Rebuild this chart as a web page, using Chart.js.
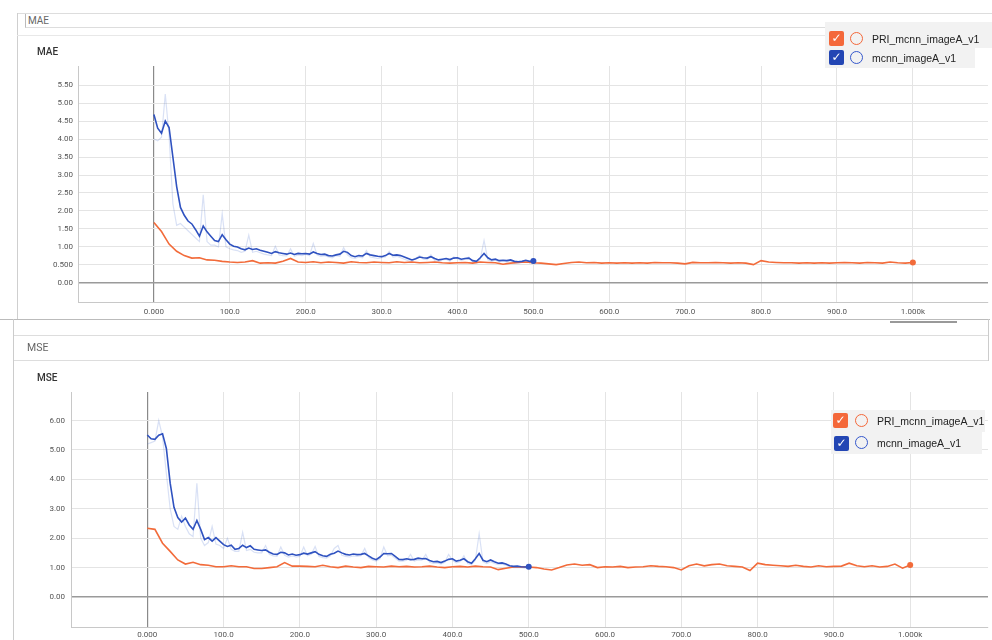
<!DOCTYPE html>
<html><head><meta charset="utf-8">
<script src="https://cdn.jsdelivr.net/npm/chart.js@4.4.0/dist/chart.umd.min.js"></script>
<style>
body{margin:0;width:992px;height:640px;overflow:hidden;background:#fff;font-family:Roboto,"Liberation Sans",Arial,sans-serif;position:relative;}
.a{position:absolute;}
canvas{position:absolute;}
.hdr{font-size:10px;color:#666;}
.ttl{font-size:10px;color:#333;font-weight:500;}
.row{position:absolute;background:#f2f2f2;}
.cb{position:absolute;width:15px;height:15px;border-radius:2px;color:#fff;font-size:12px;line-height:15px;text-align:center;font-family:"DejaVu Sans",sans-serif;}
.ring{position:absolute;width:11px;height:11px;border-radius:50%;border:1.5px solid;}
.lt{position:absolute;font-family:"Liberation Sans",Arial,sans-serif;font-size:10.5px;color:#222;line-height:14px;white-space:nowrap;}
</style></head><body>
<canvas id="mae" width="975" height="283" style="left:17px;top:36px;width:975px;height:283px"></canvas>
<canvas id="mse" width="979" height="279" style="left:13px;top:361px;width:979px;height:279px"></canvas>

<!-- top panel frame -->
<div class="a" style="left:17px;top:13px;width:975px;height:0;border-top:1px solid #ddd"></div>
<div class="a" style="left:17px;top:13px;width:0;height:306px;border-left:1px solid #cfcfcf"></div>
<div class="a hdr" style="left:25px;top:14px;width:966px;height:13px;border-left:1px solid #bbb;border-bottom:1px solid #ddd;line-height:13px;padding-left:2px">MAE</div>
<div class="a" style="left:17px;top:35px;width:975px;height:0;border-top:1px solid #e8e8e8"></div>
<div class="a ttl" style="left:37px;top:46px">MAE</div>

<!-- separator & bottom panel frame -->
<div class="a" style="left:0;top:319px;width:990px;height:0;border-top:1px solid #bbb"></div>
<div class="a" style="left:890px;top:321px;width:67px;height:2px;background:#999"></div>
<div class="a" style="left:13px;top:319px;width:0;height:321px;border-left:1px solid #ccc"></div>
<div class="a" style="left:988px;top:319px;width:0;height:42px;border-left:1px solid #ccc"></div>
<div class="a hdr" style="left:14px;top:335px;width:961px;height:24px;border-top:1px solid #ddd;border-bottom:1px solid #ddd;line-height:24px;padding-left:13px;font-size:10.5px">MSE</div>
<div class="a ttl" style="left:37px;top:372px">MSE</div>

<!-- top legend -->
<div class="row" style="left:825px;top:22px;width:167px;height:26px"></div>
<div class="row" style="left:825px;top:48px;width:150px;height:20px"></div>
<div class="cb" style="left:829px;top:31px;background:#f4683a">✓</div>
<div class="ring" style="left:850px;top:32px;border-color:#f4683a"></div>
<div class="lt" style="left:872px;top:32px">PRI_mcnn_imageA_v1</div>
<div class="cb" style="left:829px;top:50px;background:#2346b4">✓</div>
<div class="ring" style="left:850px;top:51px;border-color:#3558cc"></div>
<div class="lt" style="left:872px;top:51px">mcnn_imageA_v1</div>

<!-- bottom legend -->
<div class="row" style="left:831px;top:410px;width:154px;height:22px"></div>
<div class="row" style="left:831px;top:432px;width:151px;height:22px"></div>
<div class="cb" style="left:833px;top:413px;background:#f4683a">✓</div>
<div class="ring" style="left:855px;top:414px;border-color:#f4683a"></div>
<div class="lt" style="left:877px;top:414px">PRI_mcnn_imageA_v1</div>
<div class="cb" style="left:834px;top:436px;background:#2346b4">✓</div>
<div class="ring" style="left:855px;top:436px;border-color:#3558cc"></div>
<div class="lt" style="left:877px;top:436px">mcnn_imageA_v1</div>

<script>
// x positions (training steps) of the logged points
const stepsBlue = Array.from({length:101},(_,i)=>i*5);
const stepsOrange = Array.from({length:101},(_,i)=>i*10);

const xTickValues = [0,100,200,300,400,500,600,700,800,900,1000];
const xTickLabels = ["0.000","100.0","200.0","300.0","400.0","500.0","600.0","700.0","800.0","900.0","1.000k"];
const maeTickValues = [0,0.5,1,1.5,2,2.5,3,3.5,4,4.5,5,5.5];
const maeTickLabels = ["0.00","0.500","1.00","1.50","2.00","2.50","3.00","3.50","4.00","4.50","5.00","5.50"];
const mseTickValues = [0,1,2,3,4,5,6];
const mseTickLabels = ["0.00","1.00","2.00","3.00","4.00","5.00","6.00"];

const seriesNames = ["PRI_mcnn_imageA_v1","mcnn_imageA_v1"];

// MAE – mcnn_imageA_v1 (smoothed), steps 0..500 by 5
const maeBlue = [4.68,4.30,4.16,4.50,4.32,3.50,2.68,2.10,1.88,1.72,1.64,1.48,1.30,1.58,1.42,1.30,1.18,1.15,1.34,1.20,
1.08,1.02,1.00,0.95,0.92,0.97,0.93,0.95,0.91,0.88,0.85,0.82,0.87,0.84,0.82,0.80,0.83,0.79,0.82,0.81,
0.82,0.80,0.86,0.82,0.79,0.80,0.76,0.75,0.78,0.80,0.88,0.85,0.76,0.73,0.76,0.75,0.82,0.78,0.76,0.74,
0.73,0.76,0.82,0.77,0.78,0.76,0.72,0.68,0.64,0.67,0.72,0.70,0.69,0.73,0.68,0.64,0.66,0.68,0.65,0.69,
0.70,0.66,0.68,0.69,0.62,0.60,0.70,0.82,0.70,0.64,0.66,0.62,0.63,0.62,0.64,0.60,0.59,0.60,0.63,0.60,0.61];
// MAE – mcnn_imageA_v1 (raw)
const maeBlueRaw = [4.00,3.95,4.05,5.25,4.10,2.20,1.60,1.65,1.55,1.45,1.35,1.25,1.15,2.45,1.15,1.05,1.05,1.00,1.92,1.00,
0.95,0.92,0.90,0.85,0.88,1.33,0.85,0.88,0.84,0.80,0.78,0.76,1.02,0.78,0.76,0.75,0.95,0.74,0.78,0.76,
0.80,0.76,1.10,0.78,0.74,0.76,0.72,0.70,0.76,0.74,0.98,0.78,0.70,0.68,0.72,0.70,0.90,0.72,0.70,0.68,
0.70,0.72,0.88,0.72,0.74,0.70,0.66,0.62,0.60,0.68,0.76,0.66,0.65,0.78,0.62,0.60,0.64,0.66,0.60,0.72,
0.68,0.62,0.66,0.72,0.58,0.56,0.66,1.18,0.64,0.60,0.64,0.58,0.62,0.58,0.62,0.56,0.56,0.58,0.62,0.56,0.60];
// MAE – PRI_mcnn_imageA_v1 (smoothed), steps 0..1000 by 10
const maeOrange = [1.68,1.43,1.08,0.88,0.76,0.69,0.70,0.64,0.63,0.60,0.58,0.57,0.58,0.62,0.55,0.56,0.55,0.60,0.68,0.58,
0.57,0.59,0.56,0.58,0.57,0.55,0.59,0.57,0.56,0.58,0.57,0.56,0.59,0.57,0.58,0.56,0.57,0.58,0.56,0.55,
0.56,0.57,0.55,0.58,0.57,0.56,0.52,0.55,0.57,0.58,0.56,0.55,0.53,0.51,0.54,0.57,0.58,0.56,0.57,0.55,
0.56,0.55,0.56,0.55,0.56,0.55,0.57,0.56,0.56,0.55,0.53,0.57,0.56,0.56,0.57,0.56,0.55,0.56,0.55,0.51,
0.62,0.58,0.57,0.56,0.56,0.55,0.56,0.55,0.56,0.55,0.56,0.57,0.56,0.55,0.57,0.56,0.55,0.58,0.56,0.55,0.57];

// MSE – mcnn_imageA_v1 (smoothed), steps 0..500 by 5
const mseBlue = [5.51,5.38,5.36,5.50,5.55,5.05,3.87,3.05,2.70,2.55,2.68,2.45,2.30,2.60,2.30,1.95,2.02,1.90,2.02,1.90,
1.78,1.72,1.76,1.62,1.65,1.76,1.68,1.74,1.62,1.60,1.58,1.60,1.52,1.46,1.45,1.52,1.50,1.43,1.46,1.42,
1.44,1.49,1.46,1.50,1.54,1.45,1.40,1.38,1.45,1.49,1.56,1.50,1.45,1.43,1.46,1.44,1.45,1.48,1.40,1.32,
1.27,1.36,1.48,1.47,1.48,1.38,1.28,1.27,1.30,1.27,1.28,1.32,1.30,1.31,1.24,1.20,1.21,1.17,1.22,1.28,
1.30,1.22,1.25,1.30,1.20,1.15,1.30,1.48,1.25,1.20,1.26,1.20,1.15,1.16,1.12,1.06,1.04,1.05,1.03,1.02,1.03];
// MSE – mcnn_imageA_v1 (raw)
const mseBlueRaw = [5.20,5.25,5.30,6.00,5.45,4.20,3.00,2.40,2.30,2.75,2.40,2.15,2.05,3.87,2.00,1.75,1.85,2.40,1.80,1.75,
1.65,2.00,1.62,1.55,1.55,2.20,1.58,1.62,1.52,1.50,1.50,1.75,1.45,1.40,1.38,1.70,1.42,1.36,1.40,1.36,
1.38,1.70,1.40,1.45,1.72,1.38,1.34,1.32,1.40,1.65,1.75,1.42,1.38,1.36,1.40,1.38,1.40,1.65,1.34,1.26,
1.22,1.30,1.70,1.40,1.42,1.32,1.22,1.22,1.25,1.45,1.22,1.26,1.25,1.45,1.18,1.14,1.16,1.12,1.18,1.45,
1.25,1.16,1.20,1.40,1.14,1.10,1.25,2.15,1.20,1.14,1.20,1.14,1.10,1.12,1.08,1.02,1.00,1.01,1.00,0.98,1.00];
// MSE – PRI_mcnn_imageA_v1 (smoothed), steps 0..1000 by 10
const mseOrange = [2.34,2.30,1.83,1.55,1.26,1.12,1.18,1.10,1.08,1.03,1.03,1.06,1.03,1.03,0.97,0.97,1.00,1.03,1.17,1.05,
1.05,1.04,1.03,1.08,1.03,1.00,1.05,1.02,1.00,1.04,1.03,1.02,1.05,1.03,1.04,1.02,1.03,1.05,1.02,1.00,
1.03,1.04,1.02,1.05,1.03,1.02,0.93,0.98,1.02,1.03,1.02,1.00,0.95,0.92,1.00,1.09,1.12,1.08,1.10,1.00,
1.03,1.02,1.04,1.00,1.02,1.03,1.06,1.04,1.03,1.00,0.92,1.06,1.12,1.06,1.10,1.12,1.06,1.04,1.02,0.90,
1.15,1.10,1.08,1.06,1.04,1.08,1.04,1.02,1.06,1.03,1.04,1.05,1.15,1.06,1.03,1.06,1.02,1.04,1.12,0.98,1.09];

const ORANGE = '#f26b3a', BLUE = '#2f52c0';

function pts(steps, vals){ return steps.map((s,i)=>({x:s,y:vals[i]})); }
function lastDot(ctx){ return ctx.dataIndex === ctx.dataset.data.length-1 ? 3 : 0; }

function makeChart(id, cfg){
  const tickFont = {family:'Roboto, "Liberation Sans", Arial, sans-serif', size:8};
  new Chart(document.getElementById(id), {
    type:'line',
    data:{datasets:[
      {label:seriesNames[1], data:pts(stepsBlue,cfg.blue), borderColor:BLUE, borderWidth:1.6, pointRadius:lastDot, pointBackgroundColor:BLUE, pointBorderWidth:0, tension:0, order:1},
      {label:seriesNames[0], data:pts(stepsOrange,cfg.orange), borderColor:ORANGE, borderWidth:1.6, pointRadius:lastDot, pointBackgroundColor:ORANGE, pointBorderWidth:0, tension:0, order:2},
      {label:seriesNames[1]+' raw', data:pts(stepsBlue,cfg.blueRaw), borderColor:'rgba(80,120,210,0.22)', borderWidth:1.2, pointRadius:0, tension:0, order:3}
    ]},
    options:{
      responsive:false, animation:false, devicePixelRatio:1,
      layout:{padding:{top:cfg.padTop,left:0,right:0,bottom:0}},
      plugins:{legend:{display:false}, tooltip:{enabled:false}},
      scales:{
        x:{type:'linear', min:cfg.xmin, max:cfg.xmax,
          afterBuildTicks:s=>{s.ticks = xTickValues.map(v=>({value:v}));},
          afterFit:s=>{s.height = cfg.xh;},
          ticks:{callback:(v,i)=>xTickLabels[i], autoSkip:false, maxRotation:0, padding:cfg.xpad, color:'#555', font:tickFont},
          grid:{drawTicks:false, color:c=>c.tick && c.tick.value===0 ? '#8a8a8a' : '#e4e4e4', lineWidth:c=>c.tick && c.tick.value===0 ? 1.2 : 1},
          border:{display:true, color:'#c8c8c8', width:1}
        },
        y:{type:'linear', min:cfg.ymin, max:cfg.ymax,
          afterBuildTicks:s=>{s.ticks = cfg.yTicks.map(v=>({value:v}));},
          afterFit:s=>{s.width = cfg.yw;},
          ticks:{callback:(v,i)=>cfg.yLabels[i], autoSkip:false, padding:cfg.ypad, color:'#555', font:tickFont},
          grid:{drawTicks:false, color:c=>c.tick && c.tick.value===0 ? '#9a9a9a' : '#e4e4e4', lineWidth:c=>c.tick && c.tick.value===0 ? 1.6 : 1},
          border:{display:true, color:'#c8c8c8', width:1}
        }
      }
    }
  });
}

makeChart('mae', {blue:maeBlue, blueRaw:maeBlueRaw, orange:maeOrange, padTop:30, xh:17, xpad:5, yw:61, ypad:5,
  xmin:-100, xmax:1099, ymin:-0.53, ymax:6.03, yTicks:maeTickValues, yLabels:maeTickLabels});
makeChart('mse', {blue:mseBlue, blueRaw:mseBlueRaw, orange:mseOrange, padTop:31, xh:13, xpad:3, yw:58, ypad:6,
  xmin:-100, xmax:1102, ymin:-1.02, ymax:6.97, yTicks:mseTickValues, yLabels:mseTickLabels});
</script>
</body></html>
